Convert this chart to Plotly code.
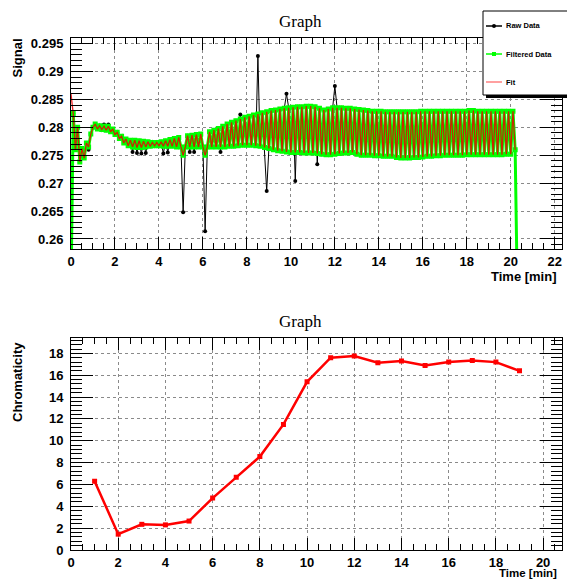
import numpy as np
import plotly.graph_objects as go

W, H = 567, 579

# ---------------- data: top panel (signal vs time) ----------------
sample_step = 0.1  # min between samples
filtered = [
    0.2500, 0.2825, 0.2760, 0.2800, 0.2738, 0.2762, 0.2745, 0.2772, 0.2765, 0.2788,
    0.2800, 0.2806, 0.2797, 0.2803, 0.2796, 0.2802, 0.2795, 0.2802, 0.2792, 0.2797,
    0.2787, 0.2791, 0.2780, 0.2784, 0.2772, 0.2779, 0.2767, 0.2777, 0.2765, 0.2777,
    0.2764, 0.2776, 0.2764, 0.2775, 0.2765, 0.2774, 0.2766, 0.2773, 0.2767, 0.2773,
    0.2767, 0.2774, 0.2766, 0.2776, 0.2766, 0.2778, 0.2766, 0.2780, 0.2765, 0.2782,
    0.2765, 0.2750, 0.2765, 0.2785, 0.2765, 0.2786, 0.2765, 0.2787, 0.2765, 0.2788,
    0.2765, 0.2750, 0.2765, 0.2792, 0.2765, 0.2795, 0.2765, 0.2798, 0.2765, 0.2802,
    0.2765, 0.2806, 0.2766, 0.2809, 0.2766, 0.2812, 0.2767, 0.2815, 0.2768, 0.2818,
    0.2768, 0.2820, 0.2768, 0.2822, 0.2767, 0.2824, 0.2766, 0.2826, 0.2764, 0.2828,
    0.2762, 0.2830, 0.2760, 0.2831, 0.2758, 0.2833, 0.2757, 0.2834, 0.2756, 0.2835,
    0.2755, 0.2836, 0.2755, 0.2837, 0.2755, 0.2837, 0.2754, 0.2838, 0.2754, 0.2838,
    0.2754, 0.2837, 0.2753, 0.2834, 0.2752, 0.2831, 0.2751, 0.2833, 0.2751, 0.2835,
    0.2752, 0.2835, 0.2753, 0.2835, 0.2754, 0.2834, 0.2754, 0.2834, 0.2755, 0.2833,
    0.2752, 0.2832, 0.2750, 0.2831, 0.2750, 0.2830, 0.2750, 0.2829, 0.2749, 0.2829,
    0.2749, 0.2829, 0.2748, 0.2828, 0.2748, 0.2828, 0.2748, 0.2828, 0.2746, 0.2828,
    0.2745, 0.2828, 0.2745, 0.2828, 0.2745, 0.2828, 0.2746, 0.2828, 0.2746, 0.2829,
    0.2747, 0.2829, 0.2748, 0.2829, 0.2748, 0.2829, 0.2749, 0.2829, 0.2749, 0.2829,
    0.2750, 0.2829, 0.2750, 0.2829, 0.2750, 0.2829, 0.2750, 0.2829, 0.2750, 0.2829,
    0.2751, 0.2830, 0.2751, 0.2830, 0.2751, 0.2829, 0.2751, 0.2829, 0.2751, 0.2829,
    0.2751, 0.2829, 0.2751, 0.2829, 0.2751, 0.2829, 0.2751, 0.2829, 0.2752, 0.2829,
    0.2752, 0.2829, 0.2760, 0.2500,
]
time = np.round(np.arange(len(filtered)) * sample_step, 1)

# raw data differs from the filtered data at these samples
raw_dev_time = [0.8, 1.5, 1.7, 2.8, 3.0, 3.2, 3.4, 4.2, 4.4, 5.1, 5.4, 5.6, 6.1, 6.8,
                7.7, 8.5, 8.9, 9.8, 10.2, 11.2, 12.0]
raw_dev_value = [0.2760, 0.2805, 0.2805, 0.2756, 0.2754, 0.2753, 0.2754, 0.2753, 0.2755,
                 0.2648, 0.2756, 0.2756, 0.2614, 0.2756, 0.2823, 0.2928, 0.2686, 0.2860,
                 0.2704, 0.2734, 0.2874]

fit_start_value = 0.2860

# ---------------- data: bottom panel (chromaticity) ----------------
chroma_time = [1, 2, 3, 4, 5, 6, 7, 8, 9, 10, 11, 12, 13, 14, 15, 16, 17, 18, 19]
chroma_value = [6.3, 1.45, 2.35, 2.3, 2.65, 4.75, 6.65, 8.55, 11.5, 15.4, 17.6, 17.75,
                17.15, 17.3, 16.9, 17.2, 17.35, 17.2, 16.4]

# build series
raw_t = list(time[1:-1])
raw_v = list(filtered[1:-1])
for tt, vv in zip(raw_dev_time, raw_dev_value):
    idx = int(round(tt / sample_step)) - 1
    raw_v[idx] = vv
fit_t = list(time[:-1])
fit_v = [fit_start_value] + list(filtered[1:-1])

# ---------------- figure ----------------
def px(x):
    return x / W

def py(y):
    return (H - y) / H

FONT = "Liberation Sans"
tickfont = dict(family=FONT, size=13, color="black", weight="bold")

fig = go.Figure()
fig.add_trace(go.Scatter(x=raw_t, y=raw_v, mode="lines+markers", name="Raw Data",
                         line=dict(color="black", width=1),
                         marker=dict(symbol="circle", size=4, color="black"),
                         xaxis="x", yaxis="y", showlegend=False))
fig.add_trace(go.Scatter(x=list(time), y=filtered, mode="lines+markers", name="Filtered Data",
                         line=dict(color="#00ff00", width=3),
                         marker=dict(symbol="square", size=5, color="#00ff00"),
                         xaxis="x", yaxis="y", showlegend=False))
fig.add_trace(go.Scatter(x=fit_t, y=fit_v, mode="lines", name="Fit",
                         line=dict(color="rgba(235,0,0,0.85)", width=1.3),
                         xaxis="x", yaxis="y", showlegend=False))
fig.add_trace(go.Scatter(x=chroma_time, y=chroma_value, mode="lines+markers", name="Chromaticity",
                         line=dict(color="#ff0000", width=2.5),
                         marker=dict(symbol="square", size=5, color="#ff0000"),
                         xaxis="x2", yaxis="y2", showlegend=False))

xdom = [px(71), px(562)]

def axis_common(domain, rng, dtick, tick0, minor_dtick, ticklen, minorlen, anchor, standoff):
    return dict(domain=domain, range=rng, dtick=dtick, tick0=tick0, automargin=False,
                ticks="inside", ticklen=ticklen, tickwidth=1, tickcolor="black",
                showline=True, linecolor="black", linewidth=1, mirror="allticks",
                showgrid=True, gridcolor="#8a8a8a", griddash="dot", gridwidth=1,
                zeroline=False, tickfont=tickfont, ticklabelstandoff=standoff,
                minor=dict(ticks="inside", dtick=minor_dtick, tick0=tick0, ticklen=minorlen,
                           tickcolor="black", tickwidth=1, showgrid=False),
                anchor=anchor, fixedrange=True)

fig.update_layout(
    width=W, height=H,
    margin=dict(l=0, r=0, t=0, b=0, autoexpand=False),
    paper_bgcolor="white", plot_bgcolor="white",
    showlegend=False,
    xaxis=axis_common(xdom, [0, 22.33], 2, 0, 0.5, 12, 6, "y", 0),
    yaxis=axis_common([py(249), py(37.5)], [0.2582, 0.2961], 0.005, 0.26, 0.001, 22, 11, "x", 4),
    xaxis2=axis_common(xdom, [0, 20.8], 2, 0, 0.5, 12, 6, "y2", 0),
    yaxis2=axis_common([py(550), py(338.3)], [0, 19.38], 2, 0, 0.4, 22, 11, "x2", 4),
)

annotations = []
title_font = dict(family="Liberation Serif", size=17, color="black")
annotations.append(dict(text="Graph", x=px(300), y=py(21.5), xref="paper", yref="paper",
                        showarrow=False, xanchor="center", yanchor="middle", font=title_font))
annotations.append(dict(text="Graph", x=px(300), y=py(321.5), xref="paper", yref="paper",
                        showarrow=False, xanchor="center", yanchor="middle", font=title_font))
lab_font = dict(family=FONT, size=13, color="black", weight="bold")
annotations.append(dict(text="Time [min]", x=px(558), y=py(268), xref="paper", yref="paper",
                        showarrow=False, xanchor="right", yanchor="top", font=lab_font,
                        borderpad=0))
annotations.append(dict(text="Time [min]", x=px(558), y=py(580), xref="paper", yref="paper",
                        showarrow=False, xanchor="right", yanchor="bottom",
                        font=dict(family=FONT, size=11.5, color="black", weight="bold"),
                        borderpad=0))
annotations.append(dict(text="Signal", x=px(17.5), y=py(58), xref="paper", yref="paper",
                        showarrow=False, xanchor="center", yanchor="middle", textangle=-90,
                        font=lab_font))
annotations.append(dict(text="Chromaticity", x=px(17.5), y=py(382.5), xref="paper", yref="paper",
                        showarrow=False, xanchor="center", yanchor="middle", textangle=-90,
                        font=lab_font))

# legend (drawn as a ROOT-style box)
shapes = []
shapes.append(dict(type="rect", xref="paper", yref="paper", x0=px(486), x1=px(580),
                   y0=py(98), y1=py(14), fillcolor="black", line=dict(width=0), layer="above"))
shapes.append(dict(type="rect", xref="paper", yref="paper", x0=px(483), x1=px(578),
                   y0=py(95), y1=py(11), fillcolor="white", line=dict(color="black", width=1),
                   layer="above"))
leg_font = dict(family=FONT, size=7.5, color="black", weight="bold")
entries = [("Raw Data", 26, "black", "circle"),
           ("Filtered Data", 54, "#00ff00", "square"),
           ("Fit", 82, "#ff8080", None)]
for label, yy, col, mk in entries:
    shapes.append(dict(type="line", xref="paper", yref="paper", x0=px(486), x1=px(502),
                       y0=py(yy), y1=py(yy), line=dict(color=col, width=1.5),
                       layer="above"))
    if mk == "circle":
        shapes.append(dict(type="circle", xref="paper", yref="paper", x0=px(492), x1=px(496),
                           y0=py(yy + 2), y1=py(yy - 2), fillcolor=col, line=dict(width=0),
                           layer="above"))
    elif mk == "square":
        shapes.append(dict(type="rect", xref="paper", yref="paper", x0=px(492), x1=px(496),
                           y0=py(yy + 2), y1=py(yy - 2), fillcolor=col, line=dict(width=0),
                           layer="above"))
    annotations.append(dict(text=label, x=px(504), y=py(yy), xref="paper", yref="paper",
                            showarrow=False, xanchor="left", yanchor="middle", font=leg_font))

fig.update_layout(annotations=annotations, shapes=shapes)
fig.write_html("out.html")
